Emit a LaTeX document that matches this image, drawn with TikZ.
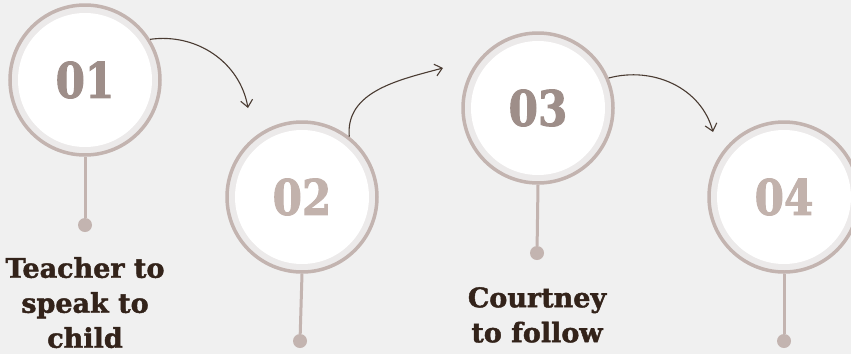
\documentclass[tikz,border=0pt]{standalone}
\usepackage{fontspec}
\usetikzlibrary{arrows.meta}
\newfontfamily\dispfont{DejaVu Serif}[FakeBold=1.6]
\newfontfamily\numfont{DejaVu Serif}[FakeStretch=0.86,FakeBold=1.8]
\definecolor{bg}{HTML}{F0F0F0}
\definecolor{ringc}{HTML}{C3B4B0}
\definecolor{bandc}{HTML}{ECEAEA}
\definecolor{txtc}{HTML}{33231A}
\definecolor{numa}{HTML}{9E8E89}
\definecolor{numb}{HTML}{C2B2AC}
\definecolor{arrc}{HTML}{4A3B32}
\tikzset{
  ringnode/.style={circle, minimum size=150pt, inner sep=0pt, draw=ringc, line width=3.5pt, fill=bandc,
    path picture={\fill[white] (path picture bounding box.center) circle (67pt);},
    font=\numfont\bfseries\fontsize{49}{49}\selectfont},
  dotnode/.style={circle, fill=ringc, minimum size=14pt, inner sep=0pt},
  stem/.style={draw=ringc, line width=3pt},
  arr/.style={draw=arrc, line width=1.1pt, -{Straight Barb[length=7pt,width=12pt]}},
  lbl/.style={text=txtc, align=center, anchor=north, inner sep=0pt,
    font=\dispfont\bfseries\fontsize{27}{35}\selectfont}
}
\begin{document}
\begin{tikzpicture}[x=1pt,y=1pt]
\useasboundingbox (0,-354) rectangle (851,0);
\fill[bg] (0,-354) rectangle (851,0);
\clip (0,-354) rectangle (851,0);
% circles
\node[ringnode, text=numa] (c1) at (85,-80) {01};
\node[ringnode, text=numb] (c2) at (302,-197) {02};
\node[ringnode, text=numa] (c3) at (538,-108) {03};
\node[ringnode, text=numb] (c4) at (784,-197) {04};
% dots
\node[dotnode] (d1) at (85,-225) {};
\node[dotnode] (d2) at (300,-341) {};
\node[dotnode] (d3) at (537,-253) {};
\node[dotnode] (d4) at (784,-341) {};
\draw[stem] (c1.south) -- (d1);
\draw[stem] (c2.south) -- (d2);
\draw[stem] (c3.south) -- (d3);
\draw[stem] (c4.south) -- (d4);
% arrows
\coordinate (e1) at (248,-108);
\coordinate (e2) at (443,-68);
\coordinate (e3) at (713,-132);
\draw[arr] (c1.32) to[out=8,in=100] (e1);
\draw[arr] (c2.52) to[out=95,in=195] (e2);
\draw[arr] (c3.23) to[out=15,in=105] (e3);
% labels
\node[lbl] (t1) at (85,-257) {Teacher to\\speak to\\child};
\node[lbl] (t3) at (537,-287) {Courtney\\to follow};
\end{tikzpicture}
\end{document}
